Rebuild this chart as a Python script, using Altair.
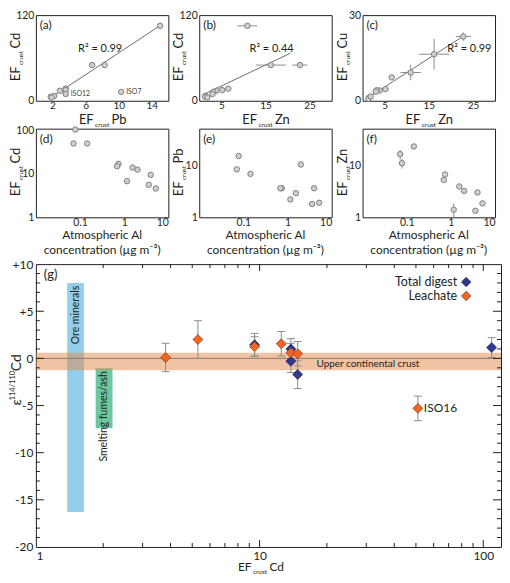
import altair as alt
import pandas as pd

FONT = "Lato"
INK = "#231f20"
BLUE, BLUE_DK = "#2e3a8f", "#1b2157"
ORANGE, ORANGE_DK = "#f26522", "#8a3510"
ERR_C = "#8c8c8c"
LINE_C = "#6d6d6d"

# ---------------- data: panels (a)-(f), one entry per aerosol sample ----------------
al_conc = [0.078, 0.071, 0.145, 0.74, 0.69, 1.55, 2.0, 4.0, 1.16, 3.6, 5.2]
ef_cd = [105, 50, 50, 17, 15, 14, 12.5, 9.5, 6.8, 5.6, 4.6]
ef_pb = [15.0, 8.3, 6.8, 3.6, 3.6, 2.9, 10.3, 3.6, 2.2, 1.8, 1.9]
ef_zn = [10.9, 16.2, 22.8, 6.6, 5.2, 3.9, 3.2, 3.0, 1.4, 1.33, 1.85]
ef_cu = [9.9, 16.3, 22.5, 8.2, 4.1, 3.6, 3.7, 3.2, 1.0, 0.7, 1.5]
zn_err = [2.3, 3.4, 1.7, 0, 0, 0, 0, 0, 0.45, 0, 0]
cu_err = [2.7, 5.4, 1.5, 0, 0, 0, 0, 0, 0, 0, 0]
sample_label = ["", "", "", "", "", "", "ISO7", "ISO12", "", "", ""]

# ---------------- data: panel (g) ----------------
leach_ef = [3.8, 5.3, 9.5, 12.5, 13.8, 14.8, 51]
leach_eps = [0.1, 2.0, 1.25, 1.55, 0.6, 0.5, -5.3]
leach_err = [1.5, 2.0, 1.05, 1.3, 1.0, 1.3, 1.3]
leach_label = ["", "", "", "", "", "", "ISO16"]
total_ef = [9.5, 13.8, 13.8, 14.8, 109]
total_eps = [1.45, 1.0, -0.3, -1.7, 1.15]
total_err = [1.2, 1.1, 1.2, 1.5, 1.05]

source_name = ["Ore minerals", "Smelting fumes/ash"]
source_ef_lo = [1.38, 1.85]
source_ef_hi = [1.64, 2.2]
source_eps_lo = [-16.3, -7.4]
source_eps_hi = [8.0, -1.05]
source_color = ["#93cfea", "#6cc8a0"]
ucc_lo = [-1.25]
ucc_hi = [0.6]

minor_x = [2, 3, 4, 5, 6, 7, 8, 9, 20, 30, 40, 50, 60, 70, 80, 90]
major_x = [10, 100]
minor_y = [-19, -18, -17, -16, -14, -13, -12, -11, -9, -8, -7, -6, -4, -3, -2, -1,
           1, 2, 3, 4, 6, 7, 8, 9]
major_y = [-15, -10, -5, 0, 5]

legend_names = ["Total digest", "Leachate"]
al_title = ["Atmospheric Al", "concentration (µg m⁻³)"]

# ---------------- frames ----------------
one = pd.DataFrame({"k": [0]})
samples = pd.DataFrame({"Al": al_conc, "Cd": ef_cd, "Pb": ef_pb, "Zn": ef_zn, "Cu": ef_cu,
                        "zn_err": zn_err, "cu_err": cu_err, "label": sample_label})
gpts = pd.DataFrame({
    "type": ["Total digest"] * len(total_ef) + ["Leachate"] * len(leach_ef),
    "ef": total_ef + leach_ef,
    "eps": total_eps + leach_eps,
    "err": total_err + leach_err,
    "label": [""] * len(total_ef) + leach_label,
})
src = pd.DataFrame({"name": source_name, "ef_lo": source_ef_lo, "ef_hi": source_ef_hi,
                    "eps_lo": source_eps_lo, "eps_hi": source_eps_hi, "color": source_color})
ucc = pd.DataFrame({"lo": ucc_lo, "hi": ucc_hi})

W, H1, H2 = 133, 86, 89
GW, GH = 467, 284
YT = -16  # baseline offset of rotated axis titles

POINT = dict(size=30, fill="#cfcfcf", stroke="#7f7f7f", strokeWidth=1, opacity=1)


def ax(vals, fmt=None, pad=2, size=10.5):
    kw = dict(values=vals, grid=False, domain=False, ticks=False, title=None, labelOverlap=False,
              labelFont=FONT, labelFontSize=size, labelColor=INK, labelPadding=pad)
    if fmt:
        kw["format"] = fmt
    return alt.Axis(**kw)


def lin(dom):
    return alt.Scale(domain=dom, nice=False, zero=False)


def logs(dom):
    return alt.Scale(type="log", domain=dom, nice=False)


def letter(txt, size=12, x=4, y=10):
    return alt.Chart(one).mark_text(text=txt, align="left", baseline="middle", font=FONT,
                                    fontSize=size, color=INK).encode(x=alt.value(x), y=alt.value(y))


def note(txt, x, y, size=11, align="left"):
    return alt.Chart(one).mark_text(text=txt, align=align, baseline="middle", font=FONT,
                                    fontSize=size, color=INK).encode(x=alt.datum(x), y=alt.datum(y))


def ef_title(elem, x, y, vertical=False, size=13, sub=6.5):
    ang = 270 if vertical else 0
    wsub = 2.3 * sub
    common = dict(font=FONT, color=INK, angle=ang, baseline="alphabetic")
    enc = dict(x=alt.value(x), y=alt.value(y))
    return [
        alt.Chart(one).mark_text(text="EF", align="right", dx=-(wsub / 2 + 1), fontSize=size, **common).encode(**enc),
        alt.Chart(one).mark_text(text="crust", align="center", dy=3, fontSize=sub, **common).encode(**enc),
        alt.Chart(one).mark_text(text=elem, align="left", dx=wsub / 2 + 2, fontSize=size, **common).encode(**enc),
    ]


def al_axis_title():
    return [
        alt.Chart(one).mark_text(text=al_title[i], align="center", baseline="middle", font=FONT,
                                 fontSize=12, color=INK).encode(x=alt.value(W / 2), y=alt.value(H2 + 18 + 15 * i))
        for i in range(2)
    ]


base = alt.Chart(samples)


def pts(x, y):
    return base.mark_circle(**POINT).encode(x=x, y=y)


XT = H1 + 23  # baseline of the EF x-axis titles in the top row


def xtop(vals):
    return ax(vals, pad=0, size=10)


# ---------------- (a) ----------------
xa = alt.X("Pb:Q", scale=lin([0, 16]), axis=xtop([2, 4, 6, 8, 10, 12, 14, 16]))
ya = alt.Y("Cd:Q", scale=lin([0, 120]), axis=ax([0, 20, 40, 60, 80, 100, 120]))
pa = alt.layer(
    base.transform_filter("datum.label == ''").transform_regression("Pb", "Cd")
        .mark_line(color=LINE_C, strokeWidth=1).encode(x=xa, y=ya),
    pts(xa, ya),
    base.transform_filter("datum.label != ''").mark_text(align="left", baseline="middle", dx=5, font=FONT,
                                                         fontSize=7, color="#444").encode(x=xa, y=ya, text="label:N"),
    note("R² = 0.99", 5.1, 72),
    letter("(a)"),
    *ef_title("Pb", W / 2, XT),
    *ef_title("Cd", YT, H1 / 2, vertical=True),
).properties(width=W, height=H1)

# ---------------- (b) ----------------
xb = alt.X("Zn:Q", scale=lin([0, 30]), axis=xtop([5, 10, 15, 20, 25, 30]))
yb = alt.Y("Cd:Q", scale=lin([0, 120]), axis=ax([0, 20, 40, 60, 80, 100, 120]))
pb = alt.layer(
    base.transform_regression("Zn", "Cd", extent=[1.0, 20.7])
        .mark_line(color=LINE_C, strokeWidth=1).encode(x=xb, y=yb),
    base.transform_filter("datum.zn_err > 0")
        .transform_calculate(zlo="datum.Zn - datum.zn_err", zhi="datum.Zn + datum.zn_err")
        .mark_rule(color=ERR_C).encode(x=alt.X("zlo:Q", scale=lin([0, 30]), axis=xtop([5, 10, 15, 20, 25, 30])),
                                       x2="zhi:Q", y=yb),
    pts(xb, yb),
    note("R² = 0.44", 11.4, 72.6),
    letter("(b)"),
    *ef_title("Zn", W / 2, XT),
    *ef_title("Cd", YT, H1 / 2, vertical=True),
).properties(width=W, height=H1)

# ---------------- (c) ----------------
xc = alt.X("Zn:Q", scale=lin([0, 30]), axis=xtop([5, 10, 15, 20, 25, 30]))
yc = alt.Y("Cu:Q", scale=lin([0, 30]), axis=ax([0, 5, 10, 15, 20, 25, 30]))
pc = alt.layer(
    base.transform_regression("Zn", "Cu").mark_line(color=LINE_C, strokeWidth=1).encode(x=xc, y=yc),
    base.transform_filter("datum.zn_err > 0")
        .transform_calculate(zlo="datum.Zn - datum.zn_err", zhi="datum.Zn + datum.zn_err")
        .mark_rule(color=ERR_C).encode(x=alt.X("zlo:Q", scale=lin([0, 30]), axis=xtop([5, 10, 15, 20, 25, 30])),
                                       x2="zhi:Q", y=yc),
    base.transform_filter("datum.cu_err > 0")
        .transform_calculate(clo="datum.Cu - datum.cu_err", chi="datum.Cu + datum.cu_err")
        .mark_rule(color=ERR_C).encode(x=xc, y=alt.Y("clo:Q", scale=lin([0, 30]), axis=ax([0, 5, 10, 15, 20, 25, 30])),
                                       y2="chi:Q"),
    pts(xc, yc),
    note("R² = 0.99", 19.2, 18.2),
    letter("(c)"),
    *ef_title("Zn", W / 2, XT),
    *ef_title("Cu", YT, H1 / 2, vertical=True),
).properties(width=W, height=H1)


# ---------------- (d)-(f) ----------------
def xal():
    return alt.X("Al:Q", scale=logs([0.01, 10]), axis=ax([0.1, 1, 10], "~g", pad=0))


yd = alt.Y("Cd:Q", scale=logs([1, 110]), axis=ax([1, 10, 100], "~g"))
pd_ = alt.layer(
    pts(xal(), yd),
    letter("(d)"),
    *al_axis_title(),
    *ef_title("Cd", YT, H2 / 2, vertical=True),
).properties(width=W, height=H2)

ye = alt.Y("Pb:Q", scale=logs([1, 50]), axis=ax([1, 10], "~g"))
pe = alt.layer(
    pts(xal(), ye),
    letter("(e)"),
    *al_axis_title(),
    *ef_title("Pb", YT, H2 / 2, vertical=True),
).properties(width=W, height=H2)

yf = alt.Y("Zn:Q", scale=logs([1, 50]), axis=ax([1, 10], "~g"))
pf = alt.layer(
    base.transform_filter("datum.zn_err > 0")
        .transform_calculate(zlo="datum.Zn - datum.zn_err", zhi="datum.Zn + datum.zn_err")
        .mark_rule(color=ERR_C).encode(x=xal(), y=alt.Y("zlo:Q", scale=logs([1, 50]), axis=ax([1, 10], "~g")),
                                       y2="zhi:Q"),
    pts(xal(), yf),
    letter("(f)"),
    *al_axis_title(),
    *ef_title("Zn", YT, H2 / 2, vertical=True),
).properties(width=W, height=H2)

# ---------------- (g) ----------------
gx_scale = alt.Scale(type="log", domain=[1, 120], nice=False)
gy_scale = alt.Scale(domain=[-20, 10], nice=False, zero=False)
gx_axis = alt.Axis(values=[1, 10, 100], format="~g", ticks=False, domain=False, grid=False, title=None,
                   labelOverlap=False, labelFont=FONT, labelFontSize=12, labelColor=INK, labelPadding=4)
gy_axis = alt.Axis(values=[-20, -15, -10, -5, 0, 5, 10],
                   labelExpr="datum.value > 0 ? '+' + datum.value : '' + datum.value",
                   ticks=False, domain=False, grid=False, title=None, labelOverlap=False,
                   labelFont=FONT, labelFontSize=12, labelColor=INK, labelPadding=3)


def GX(f):
    return alt.X(f, type="quantitative", scale=gx_scale, axis=gx_axis)


def GY(f):
    return alt.Y(f, type="quantitative", scale=gy_scale, axis=gy_axis)


gb = alt.Chart(gpts)
gerr = gb.transform_calculate(lo="datum.eps - datum.err", hi="datum.eps + datum.err")
type_scale = alt.Scale(domain=legend_names, range=[BLUE, ORANGE])
type_stroke = alt.Scale(domain=legend_names, range=[BLUE_DK, ORANGE_DK])

tx_min = pd.DataFrame({"v": minor_x})
tx_maj = pd.DataFrame({"v": major_x})
ty_min = pd.DataFrame({"v": minor_y})
ty_maj = pd.DataFrame({"v": major_y})


def xticks(df, L):
    c = alt.Chart(df).mark_rule(color=INK, strokeWidth=1)
    return [c.encode(x=GX("v"), y=alt.value(0), y2=alt.value(L)),
            c.encode(x=GX("v"), y=alt.value(GH), y2=alt.value(GH - L))]


def yticks(df, L):
    c = alt.Chart(df).mark_rule(color=INK, strokeWidth=1)
    return [c.encode(y=GY("v"), x=alt.value(0), x2=alt.value(L)),
            c.encode(y=GY("v"), x=alt.value(GW), x2=alt.value(GW - L))]


def eps_title(x, y):
    common = dict(font=FONT, color=INK, angle=270, baseline="alphabetic")
    enc = dict(x=alt.value(x), y=alt.value(y))
    ws = 25
    return [
        alt.Chart(one).mark_text(text="ε", align="right", dx=-(ws / 2 + 1), fontSize=14, **common).encode(**enc),
        alt.Chart(one).mark_text(text="114/110", align="center", dy=-6, fontSize=7.5, **common).encode(**enc),
        alt.Chart(one).mark_text(text="Cd", align="left", dx=ws / 2 + 2, fontSize=14, **common).encode(**enc),
    ]


legend_layers = []
for i, (nm, col, sc) in enumerate([(legend_names[0], BLUE, BLUE_DK), (legend_names[1], ORANGE, ORANGE_DK)]):
    yy = 18 + 14 * i
    legend_layers.append(
        alt.Chart(one).mark_text(text=nm, align="right", baseline="middle", font=FONT, fontSize=12.5, color=INK)
        .encode(x=alt.value(GW - 44), y=alt.value(yy)))
    legend_layers.append(
        alt.Chart(one).mark_point(shape="diamond", filled=True, size=90, color=col, stroke=sc, strokeWidth=0.7,
                                  opacity=1).encode(x=alt.value(GW - 35), y=alt.value(yy)))

pg = alt.layer(
    alt.Chart(src).mark_rect().encode(x=GX("ef_lo"), x2="ef_hi", y=GY("eps_lo"), y2="eps_hi",
                                      color=alt.Color("color:N", scale=None)),
    alt.Chart(ucc).mark_rect(color="#e1874b", opacity=0.5).encode(x=alt.value(0), x2=alt.value(GW),
                                                                  y=GY("hi"), y2="lo"),
    alt.Chart(one).mark_rule(color="#8a7a70", strokeWidth=1).encode(x=alt.value(0), x2=alt.value(GW),
                                                                    y=alt.datum(0)),
    alt.Chart(src).transform_calculate(xc="sqrt(datum.ef_lo * datum.ef_hi)", yt="datum.eps_hi - 0.3")
        .mark_text(angle=270, align="right", baseline="middle", font=FONT, fontSize=10.5, color=INK)
        .encode(x=GX("xc"), y=GY("yt"), text="name:N"),
    alt.Chart(one).mark_text(text="Upper continental crust", align="center", baseline="middle", font=FONT,
                             fontSize=10, color=INK).encode(x=alt.datum(30.5), y=alt.datum(-0.6)),
    gerr.mark_rule(color=ERR_C, strokeWidth=1).encode(x=GX("ef"), y=GY("lo"), y2="hi"),
    gerr.mark_rule(color=ERR_C, strokeWidth=1, xOffset=-4, x2Offset=4).encode(x=GX("ef"), x2="ef", y=GY("hi")),
    gerr.mark_rule(color=ERR_C, strokeWidth=1, xOffset=-4, x2Offset=4).encode(x=GX("ef"), x2="ef", y=GY("lo")),
    gb.mark_point(shape="diamond", filled=True, size=100, strokeWidth=0.7, opacity=1).encode(
        x=GX("ef"), y=GY("eps"),
        color=alt.Color("type:N", scale=type_scale, legend=None),
        stroke=alt.Stroke("type:N", scale=type_stroke, legend=None)),
    gb.transform_filter("datum.label != ''").mark_text(align="left", baseline="middle", dx=6, font=FONT,
                                                       fontSize=12, color=INK).encode(x=GX("ef"), y=GY("eps"),
                                                                                      text="label:N"),
    *xticks(tx_min, 4), *xticks(tx_maj, 7), *yticks(ty_min, 4), *yticks(ty_maj, 8),
    *legend_layers,
    letter("(g)", size=13, x=8, y=11),
    *ef_title("Cd", 225, GH + 24, size=12, sub=6.5),
    *eps_title(-15, 122),
).properties(width=GW, height=GH)

grid6 = alt.concat(pa, pb, pc, pd_, pe, pf, columns=3, spacing={"row": 28, "column": 31}, bounds="flush")
chart = alt.vconcat(grid6, pg, spacing=0).properties(
    padding=0, background="white"
).configure_view(stroke=INK, strokeWidth=1)

chart.save("out.html", embed_options={"renderer": "svg", "actions": False})
